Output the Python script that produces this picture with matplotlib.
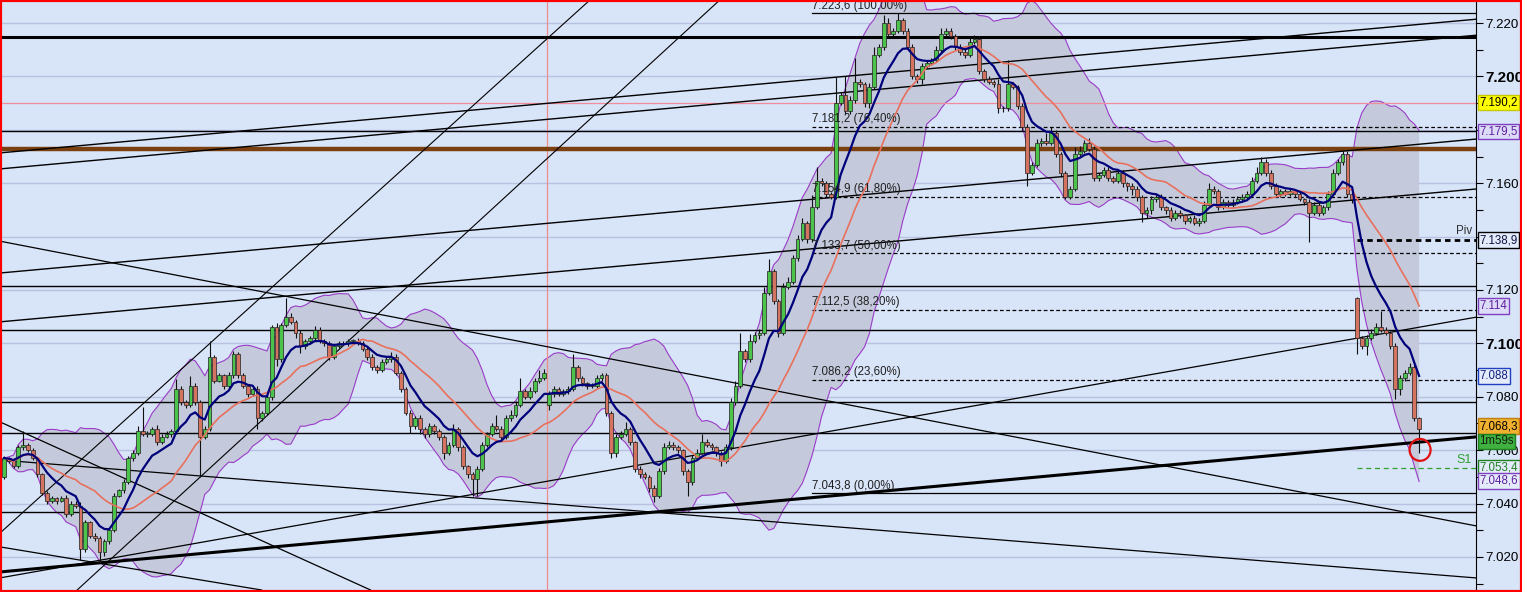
import numpy as np
import pandas as pd
import matplotlib
matplotlib.use("Agg")
import matplotlib.pyplot as plt
from matplotlib.patches import Rectangle, Ellipse
from matplotlib.transforms import blended_transform_factory

plt.rcParams['font.family'] = ['Liberation Sans', 'DejaVu Sans']

# closing prices, one per candle
close = [
    7.057, 7.056, 7.054, 7.061, 7.062, 7.060, 7.057, 7.051, 7.044, 7.041,
    7.042, 7.041, 7.042, 7.036, 7.040, 7.039, 7.023, 7.033, 7.028, 7.027,
    7.022, 7.026, 7.030, 7.043, 7.045, 7.048, 7.057, 7.059, 7.067, 7.066,
    7.066, 7.068, 7.063, 7.065, 7.066, 7.067, 7.083, 7.078, 7.077, 7.084,
    7.078, 7.065, 7.068, 7.095, 7.086, 7.088, 7.084, 7.088, 7.096, 7.088,
    7.084, 7.081, 7.083, 7.072, 7.074, 7.080, 7.106, 7.094, 7.107, 7.110,
    7.108, 7.104, 7.099, 7.101, 7.102, 7.105, 7.101, 7.100, 7.095, 7.099,
    7.100, 7.100, 7.101, 7.101, 7.100, 7.098, 7.095, 7.091, 7.090, 7.093,
    7.094, 7.095, 7.089, 7.083, 7.074, 7.069, 7.072, 7.068, 7.066, 7.069,
    7.067, 7.065, 7.059, 7.062, 7.068, 7.061, 7.054, 7.051, 7.049, 7.053,
    7.062, 7.066, 7.069, 7.068, 7.065, 7.072, 7.073, 7.077, 7.082, 7.080,
    7.082, 7.086, 7.087, 7.089, 7.081, 7.083, 7.081, 7.082, 7.083, 7.091,
    7.087, 7.085, 7.084, 7.084, 7.087, 7.088, 7.074, 7.059, 7.065, 7.066,
    7.068, 7.063, 7.053, 7.051, 7.050, 7.046, 7.043, 7.052, 7.061, 7.062,
    7.061, 7.060, 7.052, 7.048, 7.057, 7.059, 7.063, 7.062, 7.061, 7.059,
    7.056, 7.061, 7.078, 7.084, 7.097, 7.094, 7.101, 7.103, 7.104, 7.119,
    7.127, 7.116, 7.104, 7.121, 7.123, 7.132, 7.139, 7.145, 7.139, 7.151,
    7.161, 7.160, 7.156, 7.155, 7.190, 7.193, 7.187, 7.191, 7.198, 7.197,
    7.190, 7.196, 7.208, 7.211, 7.220, 7.216, 7.217, 7.221, 7.217, 7.211,
    7.200, 7.199, 7.204, 7.205, 7.206, 7.210, 7.216, 7.217, 7.215, 7.211,
    7.209, 7.208, 7.213, 7.214, 7.202, 7.199, 7.198, 7.197, 7.188, 7.188,
    7.197, 7.196, 7.189, 7.181, 7.164, 7.167, 7.175, 7.176, 7.175, 7.179,
    7.171, 7.164, 7.155, 7.158, 7.171, 7.172, 7.175, 7.173, 7.162, 7.163,
    7.165, 7.162, 7.161, 7.164, 7.160, 7.159, 7.158, 7.155, 7.149, 7.150,
    7.154, 7.155, 7.151, 7.150, 7.147, 7.149, 7.148, 7.146, 7.147, 7.145,
    7.146, 7.152, 7.158, 7.157, 7.151, 7.153, 7.152, 7.153, 7.154, 7.155,
    7.156, 7.161, 7.164, 7.168, 7.164, 7.159, 7.156, 7.157, 7.156, 7.157,
    7.156, 7.154, 7.153, 7.149, 7.152, 7.149, 7.151, 7.156, 7.164, 7.168,
    7.171, 7.156, 7.154, 7.102, 7.099, 7.102, 7.104, 7.106, 7.105, 7.104,
    7.099, 7.083, 7.087, 7.089, 7.091, 7.072, 7.068,
]

# wick lengths above / below the body, in 0.0001
hi_wick = [
    8, 6, 10, 8, 50, 6, 8, 5, 6, 8,
    10, 6, 8, 12, 8, 10, 15, 8, 6, 10,
    8, 6, 10, 8, 6, 10, 8, 12, 20, 90,
    10, 8, 15, 10, 12, 8, 37, 10, 8, 37,
    10, 8, 10, 60, 8, 10, 6, 12, 10, 8,
    10, 8, 6, 10, 8, 12, 10, 15, 8, 70,
    12, 8, 10, 6, 8, 15, 10, 8, 10, 6,
    8, 10, 6, 8, 10, 8, 6, 10, 8, 10,
    8, 18, 10, 8, 6, 10, 8, 12, 8, 10,
    8, 10, 6, 10, 18, 8, 10, 6, 8, 12,
    10, 8, 12, 40, 10, 10, 20, 15, 52, 8,
    15, 10, 30, 15, 10, 12, 8, 10, 12, 50,
    10, 8, 6, 10, 12, 10, 8, 6, 10, 12,
    25, 8, 6, 10, 8, 6, 8, 12, 15, 15,
    10, 8, 6, 10, 12, 15, 30, 10, 8, 6,
    8, 12, 15, 20, 70, 10, 25, 12, 15, 20,
    45, 10, 8, 15, 20, 12, 15, 18, 10, 45,
    49, 10, 8, 6, 97, 10, 70, 15, 90, 12,
    10, 15, 30, 10, 32, 19, 10, 26, 8, 10,
    10, 8, 10, 12, 10, 15, 20, 10, 12, 8,
    10, 12, 20, 15, 10, 8, 10, 6, 20, 10,
    90, 10, 8, 10, 12, 10, 15, 10, 30, 20,
    10, 8, 6, 10, 25, 20, 12, 20, 10, 8,
    10, 12, 8, 10, 8, 6, 10, 8, 6, 10,
    12, 10, 8, 6, 10, 8, 10, 6, 8, 10,
    8, 15, 20, 10, 8, 10, 8, 10, 12, 8,
    10, 15, 20, 20, 10, 8, 10, 8, 10, 8,
    10, 8, 6, 10, 8, 10, 8, 12, 15, 10,
    15, 10, 8, 3, 8, 10, 12, 15, 60, 10,
    8, 10, 12, 10, 15, 8, 5,
]
lo_wick = [
    8, 10, 6, 8, 10, 6, 8, 10, 8, 12,
    8, 10, 6, 10, 8, 6, 40, 10, 8, 12,
    42, 15, 10, 8, 6, 10, 8, 10, 8, 6,
    10, 8, 12, 8, 6, 10, 8, 10, 12, 8,
    10, 150, 10, 8, 10, 6, 12, 10, 8, 10,
    8, 10, 6, 40, 10, 8, 12, 25, 8, 10,
    8, 20, 25, 10, 8, 6, 10, 8, 12, 10,
    8, 6, 10, 8, 6, 10, 12, 8, 10, 6,
    8, 10, 8, 12, 10, 25, 10, 20, 15, 10,
    8, 12, 25, 10, 8, 12, 10, 15, 60, 60,
    8, 10, 6, 10, 12, 8, 10, 6, 8, 10,
    8, 6, 10, 8, 20, 10, 8, 6, 10, 8,
    10, 8, 10, 6, 8, 10, 12, 20, 15, 10,
    8, 10, 12, 15, 10, 15, 25, 10, 8, 6,
    10, 12, 15, 50, 10, 8, 6, 10, 8, 12,
    20, 10, 8, 10, 8, 10, 8, 10, 12, 8,
    10, 12, 15, 10, 8, 6, 10, 8, 15, 10,
    8, 10, 12, 8, 10, 8, 10, 12, 8, 10,
    15, 20, 8, 6, 10, 8, 10, 8, 12, 10,
    10, 15, 20, 10, 8, 6, 10, 8, 10, 12,
    8, 10, 6, 8, 10, 12, 8, 10, 15, 12,
    10, 8, 12, 15, 50, 10, 8, 10, 6, 8,
    12, 15, 10, 8, 10, 8, 6, 10, 12, 10,
    8, 12, 10, 8, 15, 20, 25, 15, 35, 20,
    15, 10, 12, 15, 10, 8, 10, 12, 10, 8,
    10, 8, 6, 12, 10, 8, 10, 8, 6, 10,
    8, 6, 10, 8, 12, 10, 8, 10, 6, 8,
    10, 8, 12, 110, 10, 12, 8, 10, 6, 8,
    10, 12, 15, 60, 10, 35, 8, 10, 6, 10,
    12, 40, 25, 10, 8, 12, 90,
]
first_open = 7.050
gap_open = {114: 7.077, 283: 7.117}   # session gaps
session_break = 113.6                 # red vertical marker

# drawn objects
h_levels = [7.2147, 7.1795, 7.1215, 7.1050, 7.0780, 7.0664, 7.0369]
h_widths = [2.2, 1.0, 1.0, 1.0, 1.0, 1.0, 1.0]
brown_level = 7.1728
pink_level = 7.1902
fib_start = 169
fib_prices = [7.2236, 7.1812, 7.1549, 7.1337, 7.1125, 7.0862, 7.0438]
fib_labels = ["7.223,6 (100,00%)", "7.181,2 (76,40%)", "7.154,9 (61,80%)",
              "7.133,7 (50,00%)", "7.112,5 (38,20%)", "7.086,2 (23,60%)",
              "7.043,8 (0,00%)"]
pivot_start = 283
pivot = 7.1389
s1 = 7.0534
# trend lines: two anchor points (candle index, price) and width
trend_lines = [
    ((0, 7.1715), (299, 7.2200), 1.0),
    ((0, 7.1655), (299, 7.2140), 1.0),
    ((0, 7.1265), (299, 7.1751), 1.0),
    ((0, 7.1082), (299, 7.1564), 1.0),
    ((0, 7.0145), (299, 7.0635), 2.2),
    ((0, 7.0124), (299, 7.1070), 0.9),
    ((0, 7.1380), (299, 7.0347), 0.9),
    ((0, 7.0699), (61.9, 7.0196), 0.9),
    ((0, 7.0562), (299, 7.0134), 0.9),
    ((0, 7.0235), (41.0, 7.0114), 0.9),
    ((0, 7.0303), (82.8, 7.1643), 0.8),
    ((15.3, 7.0076), (82.8, 7.1186), 0.8),
]
# right scale labels (7.180 and 7.140 sit under price boxes)
tick_prices = [7.02, 7.04, 7.06, 7.08, 7.10, 7.12, 7.16, 7.20, 7.22]
bold_ticks = [7.10, 7.20]
# price boxes on the right scale: text, price, face, edge, text colour
price_boxes = [
    ("7.190,2", 7.1902, "#ffff00", "#c8c800", "black"),
    ("7.179,5", 7.1793, "#dcdcf8", "#8040c0", "#6020a0"),
    ("7.138,9", 7.1387, "#e4ecfc", "black", "#101040"),
    ("7.114", 7.1140, "#dcdcf8", "#8040c0", "#6020a0"),
    ("7.088", 7.0878, "#e4ecfc", "#2040c0", "#102080"),
    ("7.068,3", 7.0690, "#f0b030", "#c08010", "black"),
    ("1m59s", 7.0633, "#40b040", "#208020", "#102010"),
    ("7.053,4", 7.0535, "#e4ecfc", "#208020", "#208020"),
    ("7.048,6", 7.0485, "#e4ecfc", "#8040c0", "#6020a0"),
]

bg = "#d8e4f8"
n = len(close)
idx = np.arange(n)
c = np.array(close)
o = np.array([first_open] + close[:-1])
for k, v in gap_open.items():
    o[k] = v
hi = np.maximum(o, c) + np.array(hi_wick) / 10000
lo = np.minimum(o, c) - np.array(lo_wick) / 10000

s = pd.Series(c)
sma = s.rolling(20, min_periods=1).mean()
sd = s.rolling(20, min_periods=1).std(ddof=0)
upper = sma + 2 * sd
lower = sma - 2 * sd
ema = s.ewm(span=9, adjust=False).mean()

fig = plt.figure(figsize=(15.22, 5.92), dpi=100, facecolor=bg)
ax = fig.add_axes([2 / 1522, 2 / 592, 1474 / 1522, 588 / 592], facecolor=bg)
ax.set_xlim(-0.42, 307.9)
ax.set_ylim(7.0076, 7.2279)

# grid
for g in np.arange(7.02, 7.2201, 0.02):
    ax.axhline(g, color="#b8c2e0", lw=1.0, zorder=0.5)

# bollinger
ax.fill_between(idx, lower, upper, color="#c4cadc", zorder=1, lw=0)
ax.plot(idx, upper, color="#9a3cc8", lw=0.8, zorder=1.2)
ax.plot(idx, lower, color="#9a3cc8", lw=0.8, zorder=1.2)

# lines
ax.axvline(session_break, color="#f08c8c", lw=0.9, zorder=1.5)
ax.axhline(pink_level, color="#f08c9c", lw=0.9, zorder=1.5)
for lv, w in zip(h_levels, h_widths):
    ax.axhline(lv, color="black", lw=w, zorder=2)
ax.axhline(brown_level, color="#7a4010", lw=3.2, zorder=2)
for p1, p2, w in trend_lines:
    ax.axline(p1, p2, color="black", lw=w, zorder=2)

xr = ax.get_xlim()[1]
for k, (p, lab) in enumerate(zip(fib_prices, fib_labels)):
    ls = "-" if k in (0, len(fib_prices) - 1) else (0, (3, 2))
    ax.plot([fib_start, xr], [p, p], color="black", lw=0.9, ls=ls, zorder=2)
    ax.text(fib_start, p + 0.0007, lab, fontsize=8.3, color="#202020",
            ha="left", va="bottom", zorder=6)

ax.plot([pivot_start, xr], [pivot, pivot], color="black", lw=2, ls=(0, (2, 1.5)), zorder=2)
ax.text(303.8, pivot + 0.0008, "Piv", fontsize=8.3, color="#303030", va="bottom", zorder=6)
ax.plot([pivot_start, xr], [s1, s1], color="#30a030", lw=0.9, ls=(0, (4, 3)), zorder=2)
ax.text(303.9, s1 + 0.0008, "S1", fontsize=9, color="#30a030", va="bottom", zorder=6)

# candles
up = c >= o
body_lo = np.minimum(o, c)
body_h = np.maximum(np.abs(c - o), 0.0003)
ax.vlines(idx, lo, hi, color="#101010", lw=0.8, zorder=3)
ax.bar(idx, body_h, bottom=body_lo, width=0.78,
       color=np.where(up, "#4cc44c", "#d4735f"), edgecolor="#202020",
       linewidth=0.5, zorder=3.2)

ax.plot(idx, sma, color="#e8705c", lw=1.2, zorder=4)
ax.plot(idx, ema, color="#00007a", lw=1.6, zorder=4.2)

ax.add_patch(Ellipse((296.2, 7.0601), 4.4, 0.0082, angle=0, fill=False,
                     ec="#e01010", lw=1.6, zorder=6))

# right scale
for sp in ["left", "top", "bottom"]:
    ax.spines[sp].set_visible(False)
ax.spines["right"].set_color("black")
ax.xaxis.set_visible(False)
ax.yaxis.tick_right()
ax.set_yticks(tick_prices, [f"{t:.3f}" for t in tick_prices])
ax.set_yticks(np.round(np.arange(7.01, 7.2201, 0.01), 3), minor=True)
ax.tick_params(axis="y", which="both", length=5, width=0.8, pad=2,
               labelsize=9.6, colors="black")
for lab in ax.get_yticklabels():
    if lab.get_text() in [f"{t:.3f}" for t in bold_ticks]:
        lab.set_fontweight("bold")
        lab.set_fontsize(11)

tr = blended_transform_factory(ax.transAxes, ax.transData)
for txt, p, fc, ec, tc in price_boxes:
    ax.text(1.0022, p, txt, transform=tr, fontsize=8.3, color=tc,
            ha="left", va="center", clip_on=False, zorder=10,
            bbox=dict(boxstyle="square,pad=0.15", fc=fc, ec=ec, lw=1))

fig.add_artist(Rectangle((0, 0), 1, 1, transform=fig.transFigure, fill=False,
                         ec="#ff0000", lw=3, zorder=20))

fig.savefig("out.png", dpi=100, facecolor=bg)
